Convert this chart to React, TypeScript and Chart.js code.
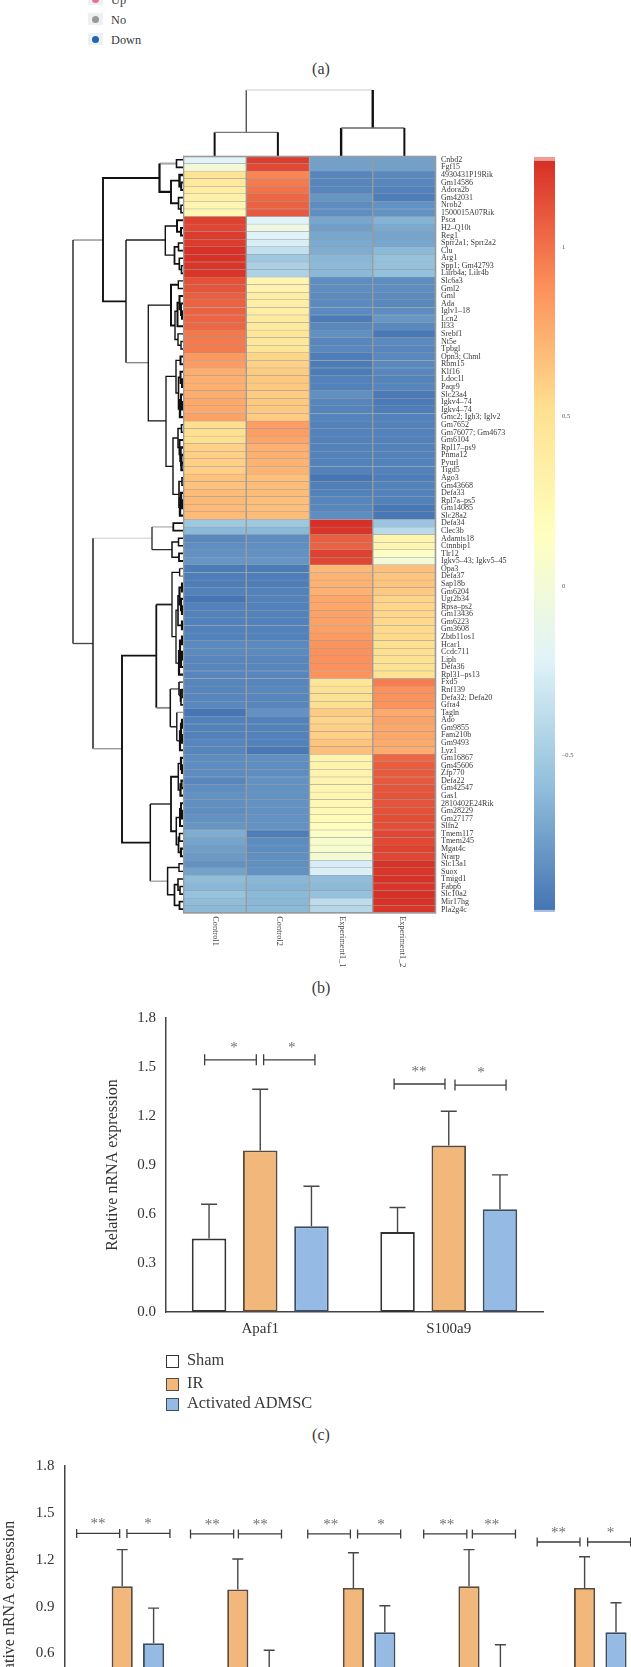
import React, { useEffect, useRef } from "react";
import { Chart, registerables } from "chart.js";

Chart.register(...registerables);

const SERIF = "'Liberation Serif', serif";
Chart.defaults.font.family = SERIF;

// ---------- heatmap data ----------
const genes = [
  "Cnbd2","Fgf15","4930431P19Rik","Gm14586","Adora2b","Gm42031","Nrob2","1500015A07Rik","Psca","H2–Q10t",
  "Reg1","Sprr2a1; Sprr2a2","Clu","Arg1","Spp1; Gm42793","Lilrb4a; Lilr4b","Slc6a3","Gml2","Gml","Ada",
  "Iglv1–18","Lcn2","Il33","Srebf1","Nt5e","Tpbgl","Opn3; Chml","Rbm15","Klf16","Ldoc1l",
  "Paqr9","Slc23a4","Igkv4–74","Igkv4–74","Gmc2; Igh3; Iglv2","Gm7652","Gm76077; Gm4673","Gm6104","Rpl17–ps9","Pnma12",
  "Pyurl","Tigd5","Ago3","Gm43668","Defa33","Rpl7a–ps5","Gm14085","Slc28a2","Defa34","Clec3b",
  "Adamts18","Ctnnbip1","Tlr12","Igkv5–43; Igkv5–45","Opa3","Defa37","Sap18b","Gm6204","Ugt2b34","Rpsa–ps2",
  "Gm13436","Gm6223","Gm3608","Zbtb11os1","Hcar1","Ccdc711","Liph","Defa36","Rpl31–ps13","Fxd5",
  "Rnf139","Defa32; Defa20","Gfra4","Tagln","Ado","Gm9855","Fam210b","Gm9493","Lyz1","Gm16867",
  "Gm45606","Zfp770","Defa22","Gm42547","Gas1","2810402E24Rik","Gm28229","Gm27177","Slfn2","Tmem117",
  "Tmem245","Mgat4c","Nrarp","Slc13a1","Suox","Tmigd1","Fabp6","Slc10a2","Mir17hg","Pla2g4c",
];
const columns = ["Control1", "Control2", "Experiment1_1", "Experiment1_2"];
const control1 = [
  -0.2,-0.02,0.48,0.42,0.37,0.33,0.27,0.25,1.2,1.18,
  1.22,1.22,1.26,1.26,1.25,1.25,1.14,1.12,1.08,1.07,
  1.07,1.06,1.05,0.98,0.97,0.97,0.84,0.83,0.75,0.74,
  0.74,0.75,0.77,0.77,0.8,0.53,0.52,0.53,0.59,0.6,
  0.6,0.6,0.66,0.66,0.68,0.7,0.7,0.69,-0.53,-0.62,
  -0.87,-0.84,-0.82,-0.8,-0.93,-0.92,-0.92,-0.9,-0.97,-0.9,
  -0.9,-0.9,-0.9,-0.9,-0.86,-0.86,-0.88,-0.88,-0.88,-0.88,
  -0.88,-0.88,-0.87,-0.98,-0.9,-0.9,-0.9,-0.88,-0.88,-0.85,
  -0.84,-0.85,-0.88,-0.84,-0.82,-0.83,-0.84,-0.82,-0.8,-0.68,
  -0.73,-0.76,-0.78,-0.82,-0.74,-0.6,-0.63,-0.56,-0.6,-0.62,
];
const control2 = [
  1.22,1.17,0.93,0.97,1.0,1.05,1.07,1.1,-0.22,-0.08,
  -0.22,-0.26,-0.36,-0.53,-0.47,-0.46,0.27,0.28,0.36,0.36,
  0.37,0.4,0.41,0.45,0.44,0.45,0.57,0.59,0.62,0.63,
  0.63,0.62,0.63,0.63,0.62,0.82,0.82,0.79,0.74,0.74,
  0.72,0.72,0.67,0.68,0.68,0.67,0.67,0.68,-0.53,-0.62,
  -0.85,-0.84,-0.82,-0.8,-0.93,-0.92,-0.92,-0.9,-0.9,-0.9,
  -0.9,-0.9,-0.9,-0.9,-0.86,-0.86,-0.88,-0.88,-0.88,-0.88,
  -0.87,-0.88,-0.88,-0.82,-0.9,-0.9,-0.9,-0.9,-0.95,-0.83,
  -0.84,-0.84,-0.82,-0.82,-0.82,-0.82,-0.82,-0.82,-0.82,-0.92,
  -0.85,-0.84,-0.83,-0.83,-0.82,-0.63,-0.65,-0.62,-0.63,-0.62,
];
const experiment1 = [
  -0.75,-0.75,-0.88,-0.88,-0.88,-0.8,-0.85,-0.84,-0.72,-0.76,
  -0.72,-0.7,-0.68,-0.63,-0.62,-0.62,-0.84,-0.84,-0.86,-0.86,
  -0.86,-0.93,-0.87,-0.83,-0.88,-0.87,-0.92,-0.93,-0.93,-0.9,
  -0.9,-0.83,-0.88,-0.89,-0.89,-0.9,-0.9,-0.9,-0.9,-0.9,
  -0.9,-0.9,-0.96,-0.91,-0.9,-0.88,-0.88,-0.84,1.27,1.25,
  1.08,1.07,1.2,1.18,0.7,0.72,0.73,0.73,0.78,0.78,
  0.8,0.8,0.81,0.83,0.87,0.88,0.88,0.88,0.87,0.46,
  0.5,0.5,0.52,0.62,0.58,0.6,0.6,0.65,0.67,0.29,
  0.29,0.29,0.28,0.27,0.27,0.25,0.22,0.2,0.17,0.1,
  0.07,0.05,0.02,-0.26,-0.25,-0.6,-0.62,-0.58,-0.38,-0.42,
];
const experiment2 = [
  -0.75,-0.75,-0.87,-0.88,-0.9,-0.92,-0.82,-0.82,-0.65,-0.7,
  -0.73,-0.72,-0.62,-0.58,-0.58,-0.58,-0.84,-0.84,-0.86,-0.87,
  -0.85,-0.8,-0.87,-0.95,-0.86,-0.88,-0.87,-0.87,-0.88,-0.89,
  -0.88,-0.94,-0.94,-0.92,-0.9,-0.9,-0.9,-0.9,-0.9,-0.9,
  -0.9,-0.9,-0.92,-0.9,-0.9,-0.9,-0.95,-0.95,-0.54,-0.4,
  0.29,0.27,0.12,-0.02,0.67,0.65,0.65,0.63,0.58,0.57,
  0.57,0.56,0.55,0.55,0.52,0.52,0.5,0.5,0.49,0.96,
  0.88,0.87,0.87,0.76,0.8,0.78,0.78,0.76,0.75,1.05,
  1.09,1.1,1.11,1.12,1.13,1.13,1.14,1.15,1.15,1.18,
  1.17,1.2,1.18,1.26,1.25,1.27,1.25,1.27,1.26,1.25,
];
const heatColumns = [control1, control2, experiment1, experiment2];
const zMin = -0.964;
const zMax = 1.268;
const zStops = ["#4575B4", "#91BFDB", "#E0F3F8", "#FFFFBF", "#FEE090", "#FC8D59", "#D73027"];
const colorbarTicks = [1, 0.5, 0, -0.5];

// ---------- dendrograms: [merge height, row A, row B, height A, height B, line width, colour A, colour B] ----------
type Link = [number, number, number, number, number, number, string?, string?];
const rowLinks: Link[] = [
  [6.5,0.5,1.5,0,0,1.6],[1.8,3.5,4.5,0,0,2],[3.5,2.5,4,0,1.8,2.4],[2,6.5,7.5,0,0,1.6],[4.5,5.5,7,0,2,1.6],
  [12,3.25,6.25,3.5,4.5,1.9],[23.5,1,4.75,6.5,12,2.2,"#aaaaaa","#111111"],
  [2,9.5,10.5,0,0,2],[6,8.5,10,0,2,2],[4.5,11.5,12.5,0,0,1.6],[1.5,14.5,15.5,0,0,1.6],[3.7,13.5,15,0,1.5,1.6],
  [8.5,12,14.25,4.5,3.7,1.8],[17.7,9.25,13.1,6,8.5,1.4],
  [4.7,16.5,17.5,0,0,1.4],[1,20.5,21.5,0,0,2],[2,19.5,21,0,1,2],[3.5,18.5,20.25,0,2,2],[5.5,19.4,22.5,3.5,0,2],
  [2,24.5,25.5,0,0,1.4],[5,23.5,25,0,2,1.4],[8,20.5,24.25,5.5,5,1.4],[12,17,22.4,4.7,8,2],
  [2.5,26.5,27.5,0,0,2],[1,29.5,30.5,0,0,2],[2.5,28.5,30,0,1,2],[1,32.5,33.5,0,0,2],[2,31.5,33,0,1,2],[3,32.25,34.5,2,0,2.4],
  [4.5,29.25,33.4,2.5,3,1.6],[7,27,31.3,2.5,4.5,1.4],
  [1.5,35.5,36.5,0,0,1.6],[1.5,40.5,41.5,0,0,2.4],[2,39.5,41,0,1.5,2.4],[2.5,38.5,40.25,0,2,2.4],[3.5,37.5,39.4,0,2.5,2],[5,36,38.5,1.5,3.5,1.5],
  [1,42.5,43.5,0,0,1.6],[1,45.5,46.5,0,0,2.4],[2,44.5,46,0,1,2.4],[3,45.25,47.5,2,0,2.4],[4,43,46.4,1,3,1.6],[10,37.25,44.7,5,4,1.4],
  [17,29.1,41,7,10,1.3],[34.7,19.7,35,12,17,1.3],[57,11.1,27.3,17.7,34.7,1.4,"#222222","#888888"],[80,2.9,19.2,23.5,57,1.9],
  [9.7,48.5,49.5,0,0,1.8],[4.5,50.5,51.5,0,0,1.5],[4,52.5,53.5,0,0,1.8],[11,51,53,4.5,4,1.5],[31,49,52,9.7,11,1.2,"#aaaaaa","#222222"],
  [3.4,54.5,55.5,0,0,1.4,"#555555","#777777"],[1,59.5,60.5,0,0,2.2],[2,58.5,60,0,1,2.2],[1,56.5,57.5,0,0,2.2],[3.5,57,59.25,1,2,2.2],[1,61.5,62.5,0,0,2.2],[5,58.1,62,3.5,1,1.6],
  [1,63.5,64.5,0,0,2.2],[1,65.5,66.5,0,0,2.2],[2,66,67.5,1,0,2.2],[3,64,66.75,1,2,2.2],[4,65.4,68.5,3,0,2.2],[7,60,67,5,4,1.3],[11,55,63.5,3.4,7,1.3],
  [1,70.5,71.5,0,0,1.8],[2,71.5,72.5,0,0,1.6],[2.5,70.5,72,0,2,1.6],[4,69.5,71.25,0,2.5,1.6,"#444444","#222222"],
  [1,74.5,75.5,0,0,2.2],[1,76.5,77.5,0,0,2.2],[2,75,77,1,1,2.2],[3,76,78.5,2,0,2.2],[6.2,73.5,77.25,0,3,1.4,"#999999","#222222"],
  [12.7,70.4,75.4,4,6.2,1.5,"#666666","#222222"],[26.7,59.25,72.9,11,12.7,1.8,"#222222","#888888"],
  [1,80.5,81.5,0,0,2.2],[2,79.5,81,0,1,2.2],[1.5,82.5,83.5,0,0,2.2],[2.5,83,84.5,1.5,0,2.2],[4.7,80.25,83.75,2,2.5,1.5],
  [1,86.5,87.5,0,0,2],[2,85.5,87,0,1,2],[3,86.25,88.5,2,0,2],[2,91.5,92.5,0,0,2.2],[3.5,89.5,90.5,0,0,1.6],[4.5,90,92,3.5,2,1.8],[6.7,87.4,91,3,4.5,1.5],
  [12,82,89.2,4.7,6.7,1.8],
  [4,93.5,94.5,0,0,1.4],[3,96.5,97.5,0,0,1.6],[5,95.5,97,0,3,1.6],[3.5,98.5,99.5,0,0,1.8],[8.5,96.25,99,5,3.5,1.7],[15.4,94,97.6,4,8.5,1.5],
  [32.7,85.6,95.8,12,15.4,1.5,"#333333","#aaaaaa"],[61,66,90.7,26.7,32.7,1.9],[90,50.5,78.3,31,61,1.4,"#dddddd","#999999"],
  [110,11.1,64.4,80,90,1.3,"#888888","#444444"],
];
const columnLinks: Link[] = [
  [23.7,0.5,1.5,0,0,1.3],
  [28,2.5,3.5,0,0,1.3],
  [66,1,3,23.7,28,1.2],
];
const columnLinkBarColors = ["#777777", "#666666", "#cccccc"];
const columnLinkLegWidths = [[2, 2], [2.4, 2], [1.3, 2.4]];

// ---------- panel (c) ----------
const panelCGenes = ["Apaf1", "S100a9"];
const shamC = [0.45, 0.49];
const irC = [0.99, 1.02];
const activatedC = [0.525, 0.63];
const shamTopC = [0.66, 0.64];
const irTopC = [1.365, 1.23];
const activatedTopC = [0.77, 0.84];
type Bracket = [number, number, number, number, string];
const bracketsC: Bracket[] = [
  [0,-0.295,-0.021,1.545,"*"],[0,0.018,0.29,1.545,"*"],
  [1,-0.29,-0.02,1.397,"**"],[1,0.033,0.304,1.39,"*"],
];
const starAtC = [-0.139, 0.167, -0.158, 0.171];

// ---------- panel (d), its lower part lies below the visible page ----------
const panelDGenes = ["", "", "", "", ""];
const shamD = [0.32, 0.3, 0.33, 0.3, 0.34];
const irD = [1.03, 1.01, 1.02, 1.03, 1.02];
const activatedD = [0.665, 0.45, 0.735, 0.51, 0.735];
const shamTopD = [0.46, 0.44, 0.47, 0.45, 0.46];
const irTopD = [1.265, 1.205, 1.245, 1.265, 1.22];
const activatedTopD = [0.89, 0.62, 0.905, 0.655, 0.925];
const bracketsD: Bracket[] = [
  [0,-0.394,-0.022,1.369,"**"],[0,0.041,0.413,1.369,"*"],
  [1,-0.409,-0.036,1.366,"**"],[1,0.005,0.378,1.366,"**"],
  [2,-0.395,-0.026,1.366,"**"],[2,0.036,0.409,1.366,"*"],
  [3,-0.392,-0.019,1.366,"**"],[3,0.029,0.402,1.366,"**"],
  [4,-0.41,-0.04,1.314,"**"],[4,0.026,0.398,1.314,"*"],
];
const starAtD = [-0.21,0.224,-0.22,0.194,-0.195,0.238,-0.193,0.197,-0.225,0.225];

const yTicksPanel = [0, 0.3, 0.6, 0.9, 1.2, 1.5, 1.8];
const groupNames = ["Sham", "IR", "Activated ADMSC"];
const groupFill = ["#FFFFFF", "#F2B77B", "#95BBE4"];
const groupEdge = ["#333333", "#5c4a3a", "#3d4c5e"];
const volcanoLegend = [
  { name: "Up", color: "#E8708A" },
  { name: "No", color: "#999999" },
  { name: "Down", color: "#1F66AE" },
];
const panelLetters = [
  { text: "(a)", y: 69 },
  { text: "(b)", y: 988 },
  { text: "(c)", y: 1435 },
];

// ---------- helpers ----------
function hexToRgb(h: string) {
  return [1, 3, 5].map((i) => parseInt(h.slice(i, i + 2), 16));
}
function zColor(z: number) {
  const t = Math.max(0, Math.min(1, (z - zMin) / (zMax - zMin))) * (zStops.length - 1);
  const i = Math.min(zStops.length - 2, Math.floor(t));
  const a = hexToRgb(zStops[i]);
  const b = hexToRgb(zStops[i + 1]);
  const f = t - i;
  return `rgb(${a.map((v, k) => Math.round(v + (b[k] - v) * f)).join(",")})`;
}

const hiddenLinear = (min: number, max: number, reverse = false) => ({
  type: "linear", display: false, min, max, reverse,
});

function rowLinkDatasets() {
  return rowLinks.map(([h, a, b, ha, hb, w, ca, cb]) => ({
    data: [{ x: ha, y: a }, { x: h, y: a }, { x: h, y: b }, { x: hb, y: b }],
    showLine: true, pointRadius: 0, borderWidth: w, borderColor: "#111111", tension: 0, clip: false,
    segment: { borderColor: (c: any) => (c.p0DataIndex === 0 ? ca || "#111111" : c.p0DataIndex === 2 ? cb || "#111111" : "#111111") },
  }));
}
function columnLinkDatasets() {
  return columnLinks.map(([h, a, b, ha, hb, w], n) => ({
    data: [{ x: a, y: ha }, { x: a, y: h }, { x: b, y: h }, { x: b, y: hb }],
    showLine: true, pointRadius: 0, borderWidth: w, borderColor: "#111111", tension: 0, clip: false,
    segment: {
      borderColor: (c: any) => (c.p0DataIndex === 1 ? columnLinkBarColors[n] : n === 2 && c.p0DataIndex === 0 ? "#444444" : "#111111"),
      borderWidth: (c: any) => (c.p0DataIndex === 1 ? w : columnLinkLegWidths[n][c.p0DataIndex === 0 ? 0 : 1]),
    },
  }));
}

function panelPlugin(tops: number[][], brackets: Bracket[], starAt: number[], capHalf: number, bracketCap: number, starGap: number, spacing: number) {
  return {
    id: "panelMarks",
    afterDatasetsDraw(chart: any) {
      const { ctx, scales } = chart;
      const y = scales.y;
      const x = scales.x;
      ctx.save();
      ctx.strokeStyle = "#474747";
      ctx.lineWidth = 1.4;
      tops.forEach((series, d) => {
        chart.getDatasetMeta(d).data.forEach((bar: any, i: number) => {
          const yTop = y.getPixelForValue(series[i]);
          ctx.beginPath();
          ctx.moveTo(bar.x, bar.y);
          ctx.lineTo(bar.x, yTop);
          ctx.moveTo(bar.x - capHalf, yTop);
          ctx.lineTo(bar.x + capHalf, yTop);
          ctx.stroke();
        });
      });
      brackets.forEach(([cat, from, to, value, stars], n) => {
        const c = x.getPixelForValue(cat);
        const x0 = c + from * spacing;
        const x1 = c + to * spacing;
        const yy = y.getPixelForValue(value);
        ctx.strokeStyle = "#3d3d3d";
        ctx.lineWidth = 1.3;
        ctx.beginPath();
        ctx.moveTo(x0, yy);
        ctx.lineTo(x1, yy);
        ctx.moveTo(x0, yy - bracketCap);
        ctx.lineTo(x0, yy + bracketCap);
        ctx.moveTo(x1, yy - bracketCap);
        ctx.lineTo(x1, yy + bracketCap);
        ctx.stroke();
        ctx.fillStyle = "#6e6e6e";
        ctx.font = `15px ${SERIF}`;
        ctx.textAlign = "center";
        ctx.textBaseline = "middle";
        ctx.fillText(stars, c + starAt[n] * spacing, yy - starGap);
      });
      ctx.restore();
    },
  };
}

function panelConfig(labels: string[], rows: number[][], plugin: any, padTop: number, axisWidth: number, showCats: boolean, right: number) {
  return {
    type: "bar",
    data: {
      labels,
      datasets: rows.map((data, i) => ({
        label: groupNames[i],
        data,
        backgroundColor: groupFill[i],
        borderColor: groupEdge[i],
        borderWidth: 1.9,
        borderSkipped: false,
        barPercentage: 0.674,
        categoryPercentage: 0.815,
      })),
    },
    options: {
      responsive: false,
      animation: false,
      devicePixelRatio: 1,
      layout: { padding: { top: padTop, left: 0, right, bottom: 0 } },
      plugins: { legend: { display: false }, tooltip: { enabled: false } },
      scales: {
        x: {
          offset: true,
          afterFit: (s: any) => { s.height = 40; },
          grid: { display: false, drawTicks: true, tickLength: 4, tickColor: "#444444" },
          border: { color: "#444444", width: 1.5 },
          ticks: { display: showCats, color: "#333333", font: { size: 15 }, padding: 4, maxRotation: 0 },
        },
        y: {
          min: 0,
          max: 1.8,
          afterFit: (s: any) => { s.width = axisWidth; },
          afterBuildTicks: (s: any) => { s.ticks = yTicksPanel.map((value) => ({ value })); },
          title: { display: true, text: "Relative nRNA expression", color: "#333333", font: { size: 16 }, padding: 0 },
          grid: { display: false, drawTicks: true, tickLength: 4, tickColor: "#444444" },
          border: { color: "#444444", width: 1.5 },
          ticks: { color: "#333333", font: { size: 15 }, padding: 6, callback: (v: any) => Number(v).toFixed(1) },
        },
      },
    },
    plugins: [plugin],
  };
}

const heatPlugin = {
  id: "heatFrame",
  afterDatasetsDraw(chart: any) {
    const { ctx, chartArea: a, scales } = chart;
    ctx.save();
    ctx.strokeStyle = "#9a9a9a";
    ctx.lineWidth = 1.6;
    ctx.strokeRect(a.left + 0.5, a.top + 0.5, a.right - a.left - 1, a.bottom - a.top - 1);
    ctx.fillStyle = "#444444";
    ctx.font = `8.3px ${SERIF}`;
    ctx.textAlign = "left";
    ctx.textBaseline = "middle";
    columns.forEach((name, i) => {
      const x = scales.x.getPixelForValue(i + 0.5);
      ctx.save();
      ctx.translate(x + (i === 3 ? -2 : 1), a.bottom + 3);
      ctx.rotate(Math.PI / 2);
      ctx.fillText(name, 0, 0);
      ctx.restore();
    });
    ctx.restore();
  },
};

const charts: { key: string; left: number; top: number; width: number; height: number; make: () => any }[] = [
  {
    key: "columnTree", left: 183, top: 85, width: 253, height: 71,
    make: () => ({
      type: "scatter",
      data: { datasets: columnLinkDatasets() },
      options: {
        responsive: false, animation: false, devicePixelRatio: 1,
        plugins: { legend: { display: false }, tooltip: { enabled: false } },
        scales: { x: hiddenLinear(0, 4), y: hiddenLinear(0, 71) },
      },
    }),
  },
  {
    key: "rowTree", left: 60, top: 150, width: 123, height: 769,
    make: () => ({
      type: "scatter",
      data: { datasets: rowLinkDatasets() },
      options: {
        responsive: false, animation: false, devicePixelRatio: 1,
        layout: { padding: { top: 6, bottom: 6 } },
        plugins: { legend: { display: false }, tooltip: { enabled: false } },
        scales: { x: hiddenLinear(0, 123, true), y: hiddenLinear(0, 100, true) },
      },
    }),
  },
  {
    key: "heat", left: 183, top: 146, width: 353, height: 837,
    make: () => ({
      type: "bar",
      data: {
        labels: genes,
        datasets: heatColumns.map((values, i) => ({
          label: columns[i],
          data: values.map(() => 1),
          backgroundColor: values.map(zColor),
          borderColor: "#9c9c9c",
          borderWidth: { top: 0.5, bottom: 0.5, left: 1, right: 1 },
          borderSkipped: false,
          barPercentage: 1,
          categoryPercentage: 1,
        })),
      },
      options: {
        indexAxis: "y",
        responsive: false, animation: false, devicePixelRatio: 1,
        layout: { padding: { top: 10, bottom: 69.7 } },
        plugins: { legend: { display: false }, tooltip: { enabled: false } },
        scales: {
          x: { type: "linear", stacked: true, display: false, min: 0, max: 4 },
          y: {
            stacked: true,
            position: "right",
            afterFit: (s: any) => { s.width = 100; },
            grid: { display: false, drawTicks: false },
            border: { display: false },
            ticks: { autoSkip: false, color: "#3a3a3a", font: { size: 8 }, padding: 5 },
          },
        },
      },
      plugins: [heatPlugin],
    }),
  },
  {
    key: "colorbar", left: 530, top: 146, width: 90, height: 777,
    make: () => ({
      type: "bar",
      data: {
        labels: ["z"],
        datasets: [{
          data: [[zMin, zMax]],
          barPercentage: 1,
          categoryPercentage: 1,
          borderWidth: 0,
          borderSkipped: false,
          backgroundColor: (c: any) => {
            const a = c.chart.chartArea;
            if (!a) return zStops[0];
            const g = c.chart.ctx.createLinearGradient(0, a.bottom, 0, a.top);
            g.addColorStop(0, "#A9BFDB");
            g.addColorStop(0.003, "#A9BFDB");
            g.addColorStop(0.0035, zStops[0]);
            zStops.slice(1, -1).forEach((s, i) => g.addColorStop((i + 1) / (zStops.length - 1), s));
            g.addColorStop(0.994, zStops[zStops.length - 1]);
            g.addColorStop(0.9945, "#EE9C94");
            g.addColorStop(1, "#EE9C94");
            return g;
          },
        }],
      },
      options: {
        responsive: false, animation: false, devicePixelRatio: 1,
        layout: { padding: { top: 10.5, bottom: 10, left: 4 } },
        plugins: { legend: { display: false }, tooltip: { enabled: false } },
        scales: {
          x: { display: false },
          y: {
            position: "right",
            min: zMin,
            max: zMax,
            afterFit: (s: any) => { s.width = 65; },
            afterBuildTicks: (s: any) => { s.ticks = colorbarTicks.map((value) => ({ value })); },
            grid: { display: false, drawTicks: false },
            border: { display: false },
            ticks: {
              color: "#555555", font: { size: 6.5 }, padding: 7,
              callback: (v: any) => String(v).replace("-", "–"),
            },
          },
        },
      },
    }),
  },
  {
    key: "panelC", left: 103, top: 1000, width: 445, height: 352,
    make: () => panelConfig(
      panelCGenes, [shamC, irC, activatedC],
      panelPlugin([shamTopC, irTopC, activatedTopC], bracketsC, starAtC, 8, 5.5, 12, 188.5),
      18.2, 63, true, 5,
    ),
  },
  {
    key: "panelD", left: 0, top: 1440, width: 660, height: 347,
    make: () => panelConfig(
      panelDGenes, [shamD, irD, activatedD],
      panelPlugin([shamTopD, irTopD, activatedTopD], bracketsD, starAtD, 5.5, 4.5, 9, 115.6),
      26.2, 64.4, false, 17.6,
    ),
  },
];

function ChartCanvas({ left, top, width, height, make }: any) {
  const ref = useRef<HTMLCanvasElement>(null);
  useEffect(() => {
    const chart = new Chart(ref.current as any, make());
    return () => chart.destroy();
  }, []);
  return <canvas ref={ref} width={width} height={height} style={{ position: "absolute", left, top, width, height }} />;
}

const textBase: React.CSSProperties = {
  position: "absolute",
  fontFamily: SERIF,
  color: "#3a3a3a",
  whiteSpace: "nowrap",
  lineHeight: 1,
};

export default function App() {
  return (
    <div style={{ position: "absolute", left: 0, top: 0, width: 631, height: 1667, overflow: "hidden", background: "#ffffff" }}>
      {volcanoLegend.map((item, i) => (
        <React.Fragment key={item.name}>
          <div style={{ position: "absolute", left: 88, top: -7 + i * 20, width: 14.5, height: 12, background: "#eef0f1" }} />
          <div style={{ position: "absolute", left: 92, top: -4 + i * 20, width: 7, height: 7, borderRadius: "50%", background: item.color }} />
          <div style={{ ...textBase, left: 111, top: -6 + i * 20, fontSize: 12.3 }}>{item.name}</div>
        </React.Fragment>
      ))}
      {panelLetters.map((p) => (
        <div key={p.text} style={{ ...textBase, left: 296, width: 50, textAlign: "center", top: p.y - 8, fontSize: 16 }}>{p.text}</div>
      ))}
      {charts.map(({ key, ...c }) => <ChartCanvas key={key} {...c} />)}
      {groupNames.map((name, i) => (
        <React.Fragment key={name}>
          <div style={{ position: "absolute", left: 166, top: [1355, 1378, 1398][i], width: 11, height: 11, background: groupFill[i], border: `1px solid ${groupEdge[i]}` }} />
          <div style={{ ...textBase, left: 187, top: [1352, 1375, 1395][i], fontSize: 16.4 }}>{name}</div>
        </React.Fragment>
      ))}
    </div>
  );
}
